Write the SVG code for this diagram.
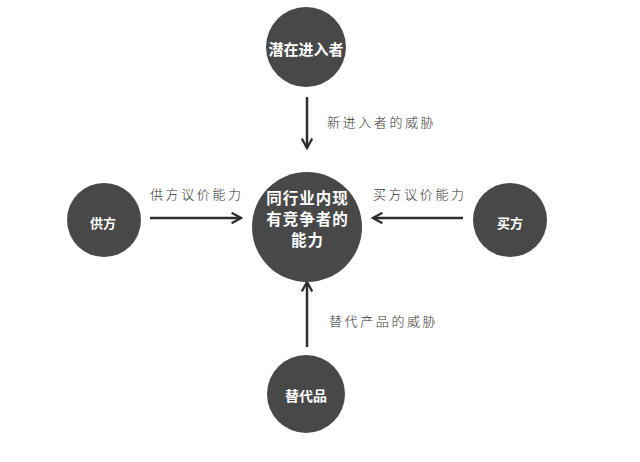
<svg xmlns="http://www.w3.org/2000/svg" width="640" height="462" viewBox="0 0 640 462">
<style>
.node{fill:#484848}
.nt{fill:#fff;font-family:"Noto Sans CJK SC","Noto Sans",sans-serif;font-weight:bold;text-anchor:middle;dominant-baseline:central}
.lbl{fill:#333;font-family:"Noto Sans CJK SC","Noto Sans",sans-serif;font-weight:300;font-size:13px;letter-spacing:2.6px;dominant-baseline:central}
.edge{stroke:#2e2e2e;stroke-width:2.5;fill:none;marker-end:url(#ah)}
</style>
<defs>
<marker id="ah" viewBox="0 0 12 12" refX="10" refY="6" markerWidth="5" markerHeight="5" orient="auto" markerUnits="strokeWidth">
<polyline points="1,1 10,6 1,11" fill="none" stroke="#2e2e2e" stroke-width="2.2" stroke-linejoin="miter"/>
</marker>
</defs>
<rect width="640" height="462" fill="#fff"/>
<g id="connectors">
<line class="edge" x1="307" y1="97" x2="307" y2="148"/>
<line class="edge" x1="150" y1="218" x2="241" y2="218"/>
<line class="edge" x1="463" y1="218" x2="373" y2="218"/>
<line class="edge" x1="307" y1="347" x2="307" y2="282"/>
<text class="lbl" x="327" y="121">新进入者的威胁</text>
<text class="lbl" x="150" y="193">供方议价能力</text>
<text class="lbl" x="373" y="193">买方议价能力</text>
<text class="lbl" x="329" y="320">替代产品的威胁</text>
</g>
<g id="n_top">
<circle class="node" cx="306" cy="47" r="40"/>
<text class="nt" x="306" y="48" font-size="15">潜在进入者</text>
</g>
<g id="n_center">
<circle class="node" cx="307" cy="227" r="55"/>
<text class="nt" x="307.5" y="197" font-size="15.5" letter-spacing="1">同行业内现</text>
<text class="nt" x="307.5" y="218" font-size="15.5" letter-spacing="1">有竞争者的</text>
<text class="nt" x="307.5" y="239" font-size="15.5" letter-spacing="1">能力</text>
</g>
<g id="n_left">
<circle class="node" cx="104" cy="220" r="37"/>
<text class="nt" x="103" y="222" font-size="13">供方</text>
</g>
<g id="n_right">
<circle class="node" cx="510" cy="220" r="37"/>
<text class="nt" x="510" y="222" font-size="13">买方</text>
</g>
<g id="n_bottom">
<circle class="node" cx="306" cy="394" r="39"/>
<text class="nt" x="306" y="395" font-size="14">替代品</text>
</g>
</svg>
